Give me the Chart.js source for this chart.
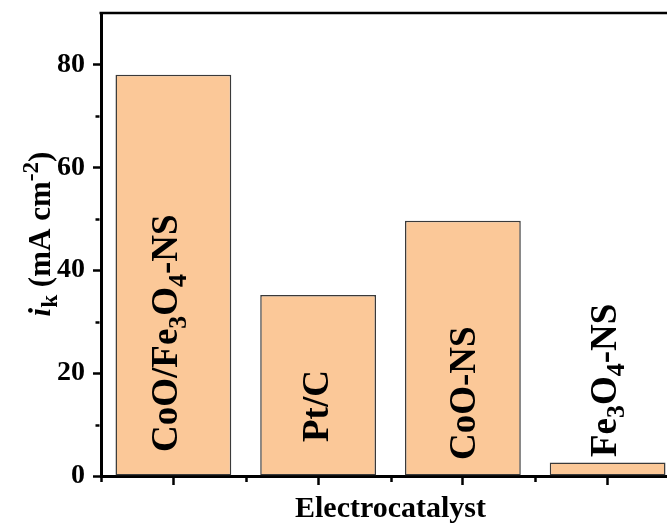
<!DOCTYPE html>
<html>
<head>
<meta charset="utf-8">
<script src="https://cdn.jsdelivr.net/npm/chart.js@4"></script>
<style>
  html, body { margin: 0; padding: 0; background: #fff; overflow: hidden; width: 667px; height: 524px; }
  #wrap { position: relative; width: 700px; height: 524px; }
</style>
</head>
<body>
<div id="wrap"><canvas id="c" width="700" height="524"></canvas></div>
<script>
// Kinetic current density per electrocatalyst
const categories = ['CoO/Fe3O4-NS', 'Pt/C', 'CoO-NS', 'Fe3O4-NS'];
const currentDensity = [78.0, 35.2, 49.6, 2.6];
const yTickValues = [0, 20, 40, 60, 80];
const yMinorTickValues = [10, 30, 50, 70];
const yMax = 90;
const xTitle = 'Electrocatalyst';

const SERIF = '"Liberation Serif", "Times New Roman", serif';

// Draw a run of text segments (sub/superscripts, italics) from the origin along +x.
function richWidth(ctx, segs, size) {
  let w = 0;
  for (const s of segs) {
    const sz = (s.sub || s.sup) ? size * s.scale : size;
    ctx.font = `${s.italic ? 'italic ' : ''}bold ${sz}px ${SERIF}`;
    w += ctx.measureText(s.text).width;
  }
  return w;
}
function drawRich(ctx, segs, size, x0) {
  let x = x0;
  for (const s of segs) {
    const sz = (s.sub || s.sup) ? size * s.scale : size;
    ctx.font = `${s.italic ? 'italic ' : ''}bold ${sz}px ${SERIF}`;
    const dy = s.sub ? size * 0.22 : (s.sup ? -size * 0.38 : 0);
    ctx.fillText(s.text, x, dy);
    x += ctx.measureText(s.text).width;
  }
}
// Chemical formula: digits become subscripts
function formulaSegments(label) {
  return label.split(/(\d+)/).filter(t => t.length).map(t =>
    /^\d+$/.test(t) ? { text: t, sub: true, scale: 0.7 } : { text: t });
}

const decorations = {
  id: 'decorations',
  afterDraw(chart, args, opts) {
    const ctx = chart.ctx;
    const area = chart.chartArea;
    const xs = chart.scales.x, ys = chart.scales.y;
    ctx.save();
    ctx.strokeStyle = '#000';
    ctx.fillStyle = '#000';

    // top frame line
    ctx.lineWidth = 2.5;
    ctx.beginPath();
    ctx.moveTo(area.left - 1.5, area.top);
    ctx.lineTo(chart.width, area.top);
    ctx.stroke();

    // minor ticks on y
    ctx.lineWidth = 2.5;
    for (const v of yMinorTickValues) {
      const py = Math.round(ys.getPixelForValue(v)) + 0.5;
      ctx.beginPath();
      ctx.moveTo(area.left - 1.5, py);
      ctx.lineTo(area.left - 5.5, py);
      ctx.stroke();
    }
    // minor ticks on x at category boundaries
    const n = categories.length;
    const bounds = [area.left];
    for (let i = 0; i < n - 1; i++) bounds.push((xs.getPixelForTick(i) + xs.getPixelForTick(i + 1)) / 2);
    bounds.push(area.right);
    for (const bx of bounds) {
      const px = Math.round(bx) + 0.5;
      ctx.beginPath();
      ctx.moveTo(px, area.bottom + 1.5);
      ctx.lineTo(px, area.bottom + 6);
      ctx.stroke();
    }

    // x-axis title
    ctx.font = `bold 30px ${SERIF}`;
    ctx.textAlign = 'center';
    ctx.textBaseline = 'alphabetic';
    ctx.fillText(xTitle, (area.left + area.right) / 2, 517);

    // y-axis title: i_k (mA cm^-2)
    ctx.textAlign = 'left';
    const ySegs = [
      { text: 'i', italic: true },
      { text: 'k', sub: true, scale: 0.75 },
      { text: ' (mA cm' },
      { text: '-2', sup: true, scale: 0.75 },
      { text: ')' }
    ];
    const ySize = 31;
    const yw = richWidth(ctx, ySegs, ySize);
    ctx.save();
    ctx.translate(50, 234);
    ctx.rotate(-Math.PI / 2);
    drawRich(ctx, ySegs, ySize, -yw / 2);
    ctx.restore();

    // formula labels inside the bars
    const meta = chart.getDatasetMeta(0);
    const base = ys.getPixelForValue(0);
    meta.data.forEach((bar, i) => {
      const segs = formulaSegments(categories[i]);
      ctx.save();
      ctx.translate(bar.x + opts.shift[i], base - opts.gap[i]);
      ctx.rotate(-Math.PI / 2);
      drawRich(ctx, segs, opts.size, 0);
      ctx.restore();
    });
    ctx.restore();
  }
};

new Chart(document.getElementById('c'), {
  type: 'bar',
  data: {
    labels: categories,
    datasets: [{
      data: currentDensity,
      backgroundColor: 'rgb(251, 200, 152)',
      borderColor: '#3a3a3a',
      borderWidth: 1.5,
      borderSkipped: false,
      categoryPercentage: 0.8,
      barPercentage: 1.0
    }]
  },
  options: {
    responsive: false,
    animation: false,
    layout: { padding: { left: 0, right: 20, top: 13, bottom: 0 } },
    plugins: {
      legend: { display: false },
      tooltip: { enabled: false },
      decorations: { size: 37, shift: [4, 10, 12, 8], gap: [24, 34, 16, 19] }
    },
    scales: {
      x: {
        grid: { display: true, drawOnChartArea: false, offset: false, tickLength: 9, tickWidth: 2.5, tickColor: '#000' },
        border: { display: true, width: 3, color: '#000' },
        ticks: { display: false },
        afterFit(scale) { scale.height = 48; scale.paddingLeft = 0; scale.paddingRight = 0; }
      },
      y: {
        min: 0,
        max: yMax,
        grid: { display: true, drawOnChartArea: false, tickLength: 8, tickWidth: 2.5, tickColor: '#000' },
        border: { display: true, width: 3, color: '#000' },
        ticks: {
          color: '#000',
          padding: 8,
          font: { family: SERIF, size: 28, weight: 'bold' }
        },
        afterBuildTicks(scale) { scale.ticks = yTickValues.map(v => ({ value: v })); },
        afterFit(scale) { scale.width = 101; scale.paddingTop = 0; scale.paddingBottom = 0; }
      }
    }
  },
  plugins: [decorations]
});
</script>
</body>
</html>
